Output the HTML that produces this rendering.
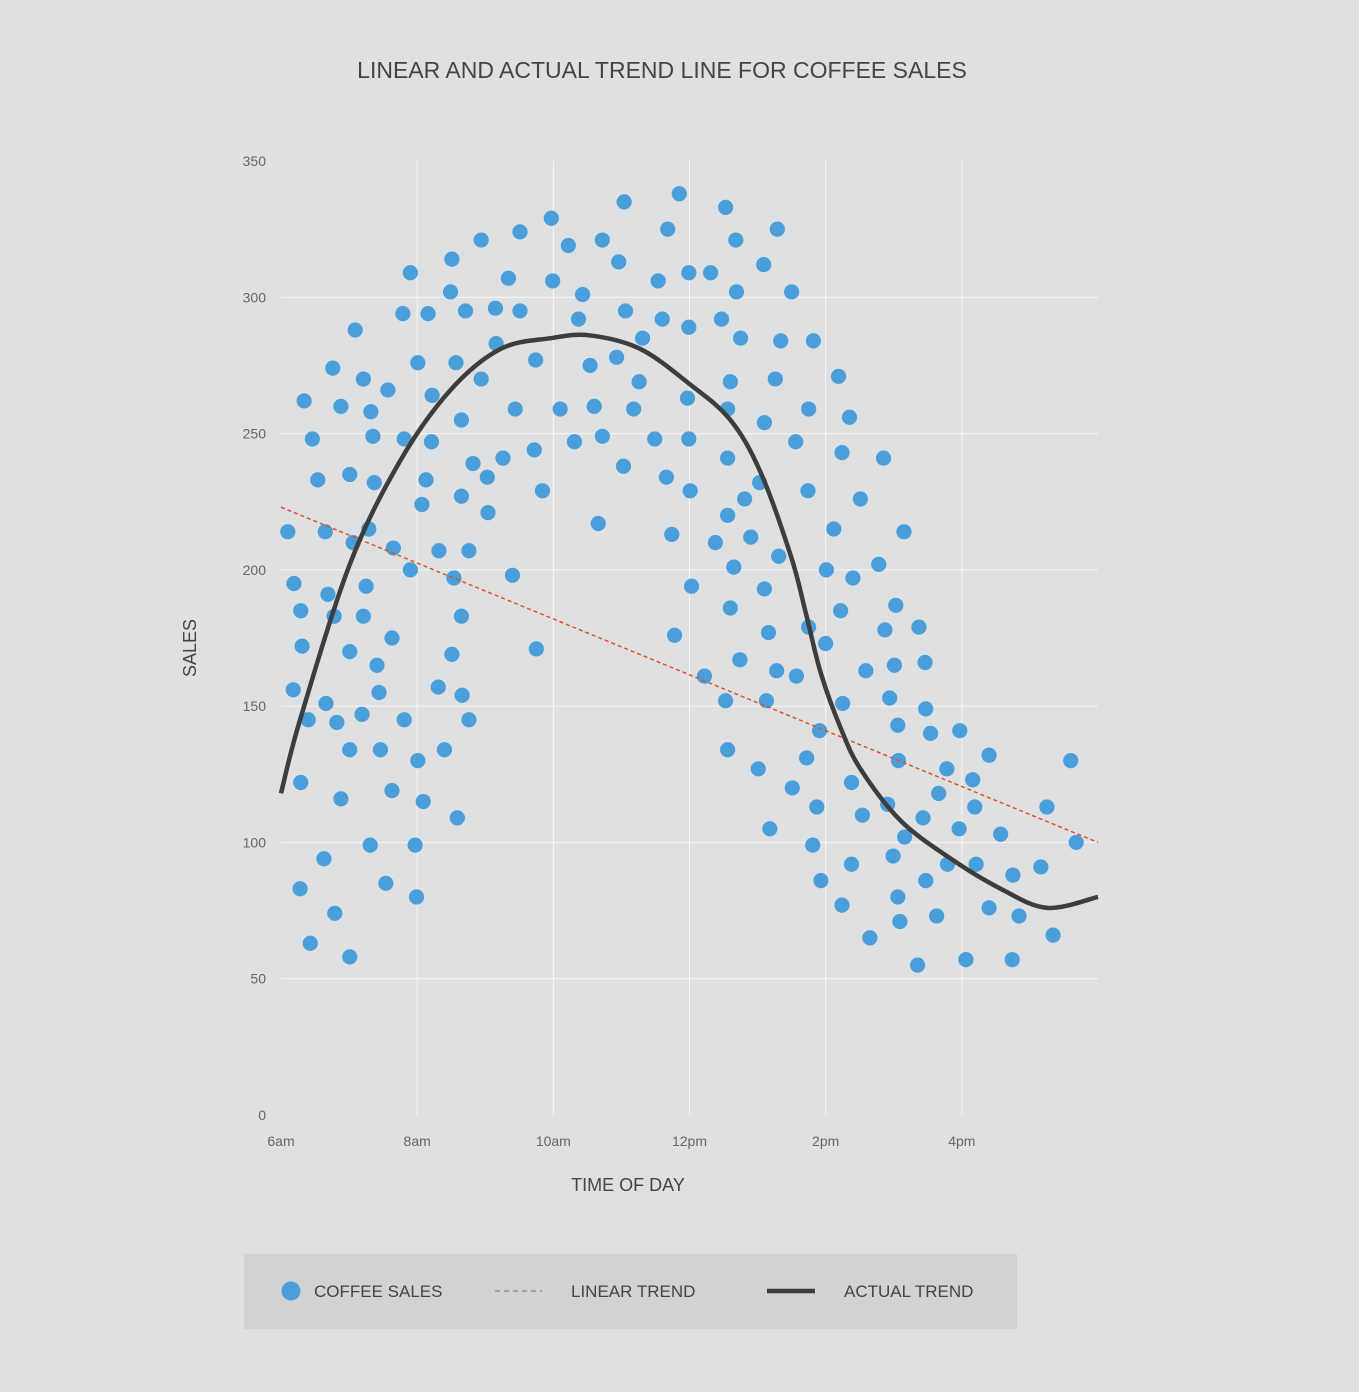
<!DOCTYPE html>
<html><head><meta charset="utf-8">
<style>
html,body{margin:0;padding:0;background:#dfe0e1;}
svg{display:block;font-family:"Liberation Sans",sans-serif;}
</style></head>
<body>
<svg id="chart" width="1359" height="1392" viewBox="0 0 1359 1392" xmlns="http://www.w3.org/2000/svg">
<rect x="0" y="0" width="1359" height="1392" fill="#dfe0e1"/>
<text x="662" y="78" text-anchor="middle" font-size="23" fill="#444">LINEAR AND ACTUAL TREND LINE FOR COFFEE SALES</text>
<g id="grid"></g>
<g id="axes"></g>
<g id="marks"></g>
<text x="196" y="648" text-anchor="middle" font-size="18" fill="#444" transform="rotate(-90 196 648)">SALES</text>
<text x="628" y="1191" text-anchor="middle" font-size="18" fill="#444">TIME OF DAY</text>
<g>
<rect x="244" y="1254" width="773" height="75" fill="#d2d2d2"/>
<g>
<circle cx="291" cy="1291" r="9.5" fill="#4a9fdb"/>
<text x="314" y="1297" font-size="17" fill="#444">COFFEE SALES</text></g>
<g>
<line x1="495" y1="1291" x2="542" y2="1291" stroke="#888" stroke-width="1.3" stroke-dasharray="5 4"/>
<text x="571" y="1297" font-size="17" fill="#444">LINEAR TREND</text></g>
<g>
<line x1="767" y1="1291" x2="815" y2="1291" stroke="#3d3d3d" stroke-width="4.5"/>
<text x="844" y="1297" font-size="17" fill="#444">ACTUAL TREND</text></g>
</g>
</svg>
<script>
const xTickValues=[6,8,10,12,14,16];
const xTickLabels=["6am","8am","10am","12pm","2pm","4pm"];
const yTickValues=[0,50,100,150,200,250,300,350];
const salesHours=[6.10,6.19,6.29,6.31,6.18,6.40,6.29,6.28,6.43,6.34,6.46,6.54,6.65,6.69,6.78,6.66,6.82,6.88,6.63,6.79,7.01,6.76,6.88,7.01,7.06,7.01,7.01,7.09,7.21,7.32,7.35,7.37,7.29,7.25,7.21,7.19,7.41,7.44,7.46,7.31,7.54,7.57,7.65,7.63,7.63,7.81,7.79,7.90,7.81,7.90,8.01,8.07,8.13,8.01,8.09,7.97,7.99,8.16,8.22,8.21,8.32,8.31,8.40,8.49,8.51,8.57,8.65,8.65,8.54,8.51,8.65,8.66,8.76,8.59,8.71,8.82,8.76,8.94,8.94,9.03,9.04,9.16,9.15,9.26,9.34,9.44,9.51,9.51,9.40,9.74,9.72,9.75,9.84,9.97,9.99,10.10,10.22,10.31,10.37,10.43,10.54,10.60,10.66,10.72,10.72,10.93,10.96,11.04,11.06,11.03,11.18,11.26,11.31,11.49,11.54,11.60,11.68,11.66,11.74,11.78,11.85,11.99,11.99,11.97,11.99,12.01,12.03,12.22,12.31,12.38,12.47,12.53,12.56,12.56,12.56,12.60,12.65,12.60,12.74,12.69,12.75,12.68,12.81,12.90,12.53,12.56,13.01,13.09,13.10,13.03,13.10,13.16,13.13,13.18,13.29,13.26,13.34,13.31,13.28,13.50,13.56,13.57,13.51,13.72,13.75,13.74,13.75,13.82,13.87,13.81,13.91,13.93,14.00,14.01,14.12,14.19,14.22,14.24,14.25,14.24,14.35,14.40,14.38,14.38,14.51,14.54,14.59,14.65,14.78,14.85,14.87,14.91,14.94,14.99,15.03,15.01,15.06,15.07,15.06,15.09,15.15,15.16,15.35,15.37,15.43,15.46,15.47,15.47,15.54,15.63,15.66,15.78,15.79,15.96,15.97,16.06,16.16,16.19,16.21,16.40,16.40,16.57,16.75,16.74,16.84,17.16,17.25,17.34,17.60,17.68];
const salesValues=[214,195,185,172,156,145,122,83,63,262,248,233,214,191,183,151,144,116,94,74,58,274,260,235,210,170,134,288,270,258,249,232,215,194,183,147,165,155,134,99,85,266,208,175,119,145,294,309,248,200,276,224,233,130,115,99,80,294,264,247,207,157,134,302,314,276,255,227,197,169,183,154,145,109,295,239,207,321,270,234,221,283,296,241,307,259,295,324,198,277,244,171,229,329,306,259,319,247,292,301,275,260,217,249,321,278,313,335,295,238,259,269,285,248,306,292,325,234,213,176,338,309,289,263,248,229,194,161,309,210,292,333,259,241,220,269,201,186,167,302,285,321,226,212,152,134,127,312,254,232,193,177,152,105,325,270,284,205,163,302,247,161,120,131,259,229,179,284,113,99,141,86,173,200,215,271,185,243,151,77,256,197,122,92,226,110,163,65,202,241,178,114,153,95,187,165,143,130,80,71,214,102,55,179,109,166,149,86,140,73,118,127,92,105,141,57,123,113,92,132,76,103,88,57,73,91,113,66,130,100];
const linearHours=[6,18];
const linearValues=[223,100];
const trendHours=[6,6.28,7.01,7.75,8.49,9.22,9.96,10.54,11.28,12.01,12.60,13.04,13.49,13.71,13.93,14.22,14.51,15.10,15.84,16.57,17.25,18];
const trendValues=[118,145,202,240,266,281,285,286,281,268,255,236,205,184,162,142,127,108,94,83,76,80];

const NS="http://www.w3.org/2000/svg";
const X0=281,X1=1098,Y0=1115,Y1=161;
function xScale(h){return X0+(h-6)*(X1-X0)/12;}
function yScale(v){return Y0-v*(Y0-Y1)/350;}
function mk(tag,attrs,parent){const e=document.createElementNS(NS,tag);for(const k in attrs)e.setAttribute(k,attrs[k]);parent.appendChild(e);return e;}
const grid=document.getElementById('grid'),axes=document.getElementById('axes'),marks=document.getElementById('marks');
yTickValues.forEach((v,i)=>{
  if(v>0&&v<350){const l=mk('line',{x1:X0,x2:X1,y1:yScale(v),y2:yScale(v),stroke:'#f7f7f7','stroke-width':1},grid);
  
  }
  const t=mk('text',{x:266,y:yScale(v)+5,'text-anchor':'end','font-size':14,fill:'#666'},axes);
  t.textContent=String(v);
  
  
});
xTickValues.forEach((h,i)=>{
  if(i>0){const l=mk('line',{x1:xScale(h),x2:xScale(h),y1:Y1,y2:Y0,stroke:'#f7f7f7','stroke-width':1},grid);
  
  }
  const t=mk('text',{x:xScale(h),y:1146,'text-anchor':'middle','font-size':14,fill:'#666'},axes);
  t.textContent=xTickLabels[i];
  
  
});
salesHours.forEach((h,i)=>{
  const c=mk('circle',{cx:xScale(h),cy:yScale(salesValues[i]),r:7.6,fill:'#4a9fdb'},marks);
  
  
});
const lin=mk('line',{x1:xScale(linearHours[0]),y1:yScale(linearValues[0]),x2:xScale(linearHours[1]),y2:yScale(linearValues[1]),stroke:'#e8491d','stroke-width':1.4,'stroke-dasharray':'4 3'},marks);


const pts=trendHours.map((h,i)=>[xScale(h),yScale(trendValues[i])]);
let d='M'+pts[0][0]+','+pts[0][1];
for(let i=0;i<pts.length-1;i++){
  const p0=pts[Math.max(0,i-1)],p1=pts[i],p2=pts[i+1],p3=pts[Math.min(pts.length-1,i+2)];
  const c1=[p1[0]+(p2[0]-p0[0])/6,p1[1]+(p2[1]-p0[1])/6];
  const c2=[p2[0]-(p3[0]-p1[0])/6,p2[1]-(p3[1]-p1[1])/6];
  d+=' C'+c1[0]+','+c1[1]+' '+c2[0]+','+c2[1]+' '+p2[0]+','+p2[1];
}
const act=mk('path',{d:d,fill:'none',stroke:'#3d3d3d','stroke-width':4.5},marks);


</script>
</body></html>
